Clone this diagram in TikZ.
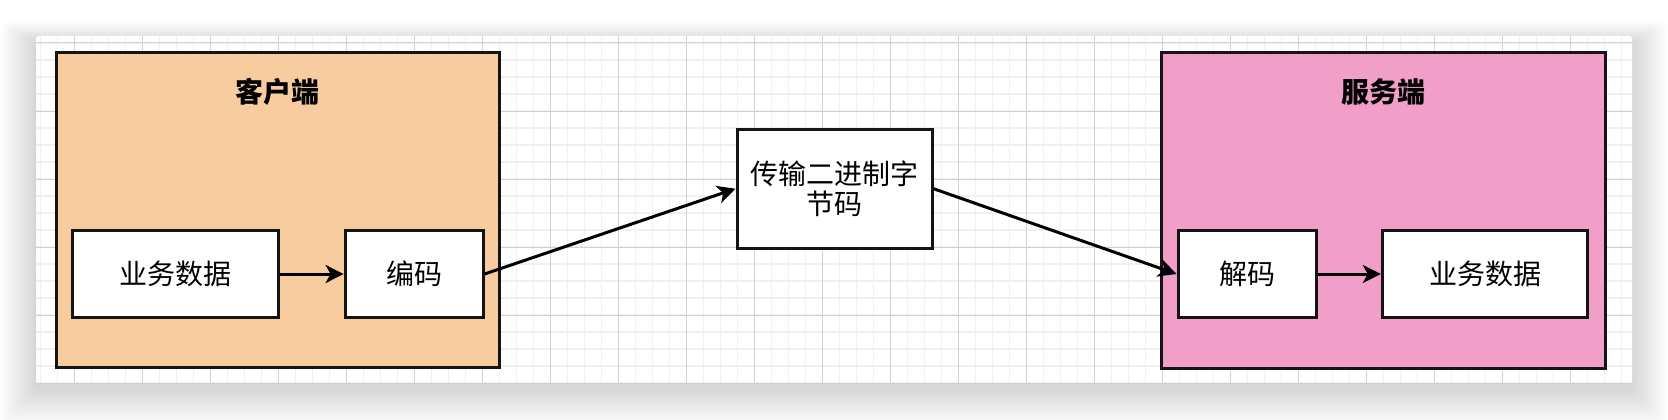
\documentclass[tikz,border=0pt]{standalone}
\usepackage{fontspec}
\setmainfont{Noto Sans CJK SC}
\usetikzlibrary{arrows.meta}
\definecolor{peach}{RGB}{247,205,160}
\definecolor{pinkbox}{RGB}{241,158,200}
\definecolor{gridminor}{RGB}{240,240,240}
\definecolor{gridmajor}{RGB}{210,210,210}
\definecolor{strokec}{RGB}{20,20,20}
\tikzset{
  container/.style={draw=strokec, line width=3pt, inner sep=0pt},
  box/.style={draw=strokec, fill=white, line width=3pt, inner sep=0pt, align=center, font=\fontsize{28}{30}\selectfont},
  titletext/.style={inner sep=0pt, font=\fontsize{28}{30}\selectfont\bfseries},
  conn/.style={line width=3pt, draw=black, -{Stealth[length=18pt, width=18pt, inset=5pt]}},
  minorline/.style={draw=gridminor, line width=1.6pt},
  majorline/.style={draw=gridmajor, line width=1pt}
}
\begin{document}
\begin{tikzpicture}[x=1pt, y=-1pt]
\useasboundingbox[fill=white] (0,0) rectangle (1668,420);
% shadow
\foreach \i in {1,...,40} {
  \fill[black, opacity=0.0035, rounded corners=6pt]
    ({36-\i*0.9},{36-\i*0.5+6}) rectangle ({1632+\i*0.9},{383+\i*0.95+6});
}
% canvas
\fill[white, rounded corners=3pt] (36,36) rectangle (1632,383);
\begin{scope}
\clip (36,36) rectangle (1632,383);
\foreach \k in {2,...,95} { \draw[minorline] ({6.6+17*\k},36) -- ({6.6+17*\k},383); }
\foreach \k in {1,...,22} { \draw[minorline] (36,{9+17*\k}) -- (1632,{9+17*\k}); }
\foreach \k in {1,...,23} { \draw[majorline] ({6.6+68*\k},36) -- ({6.6+68*\k},383); }
\foreach \k in {0,...,5} { \draw[majorline] (36,{43+68*\k}) -- (1632,{43+68*\k}); }
\end{scope}
% containers
\node[container, fill=peach, minimum width=443pt, minimum height=315pt] (client) at (277.8,210.2) {};
\node[container, fill=pinkbox, minimum width=444pt, minimum height=315.6pt] (server) at (1383,210.5) {};
\node[titletext] (clienttitle) at (277.5,91.7) {客户端};
\node[titletext] (servertitle) at (1383.3,91.7) {服务端};
% boxes
\node[box, minimum width=206pt, minimum height=86.6pt] (c1) at (175.6,274) {业务数据};
\node[box, minimum width=138pt, minimum height=86.6pt] (c2) at (414.1,274) {编码};
\node[box, minimum width=195pt, minimum height=119pt] (mid) at (834.5,188.7) {传输二进制字\\节码};
\node[box, minimum width=138pt, minimum height=86.3pt] (s1) at (1247,274) {解码};
\node[box, minimum width=205.4pt, minimum height=86.3pt] (s2) at (1485,274) {业务数据};
% connectors
\draw[conn] (c1.east) -- (c2.west);
\draw[conn] (c2.east) -- (mid.west);
\draw[conn] (mid.east) -- (s1.west);
\draw[conn] (s1.east) -- (s2.west);
\end{tikzpicture}
\end{document}
